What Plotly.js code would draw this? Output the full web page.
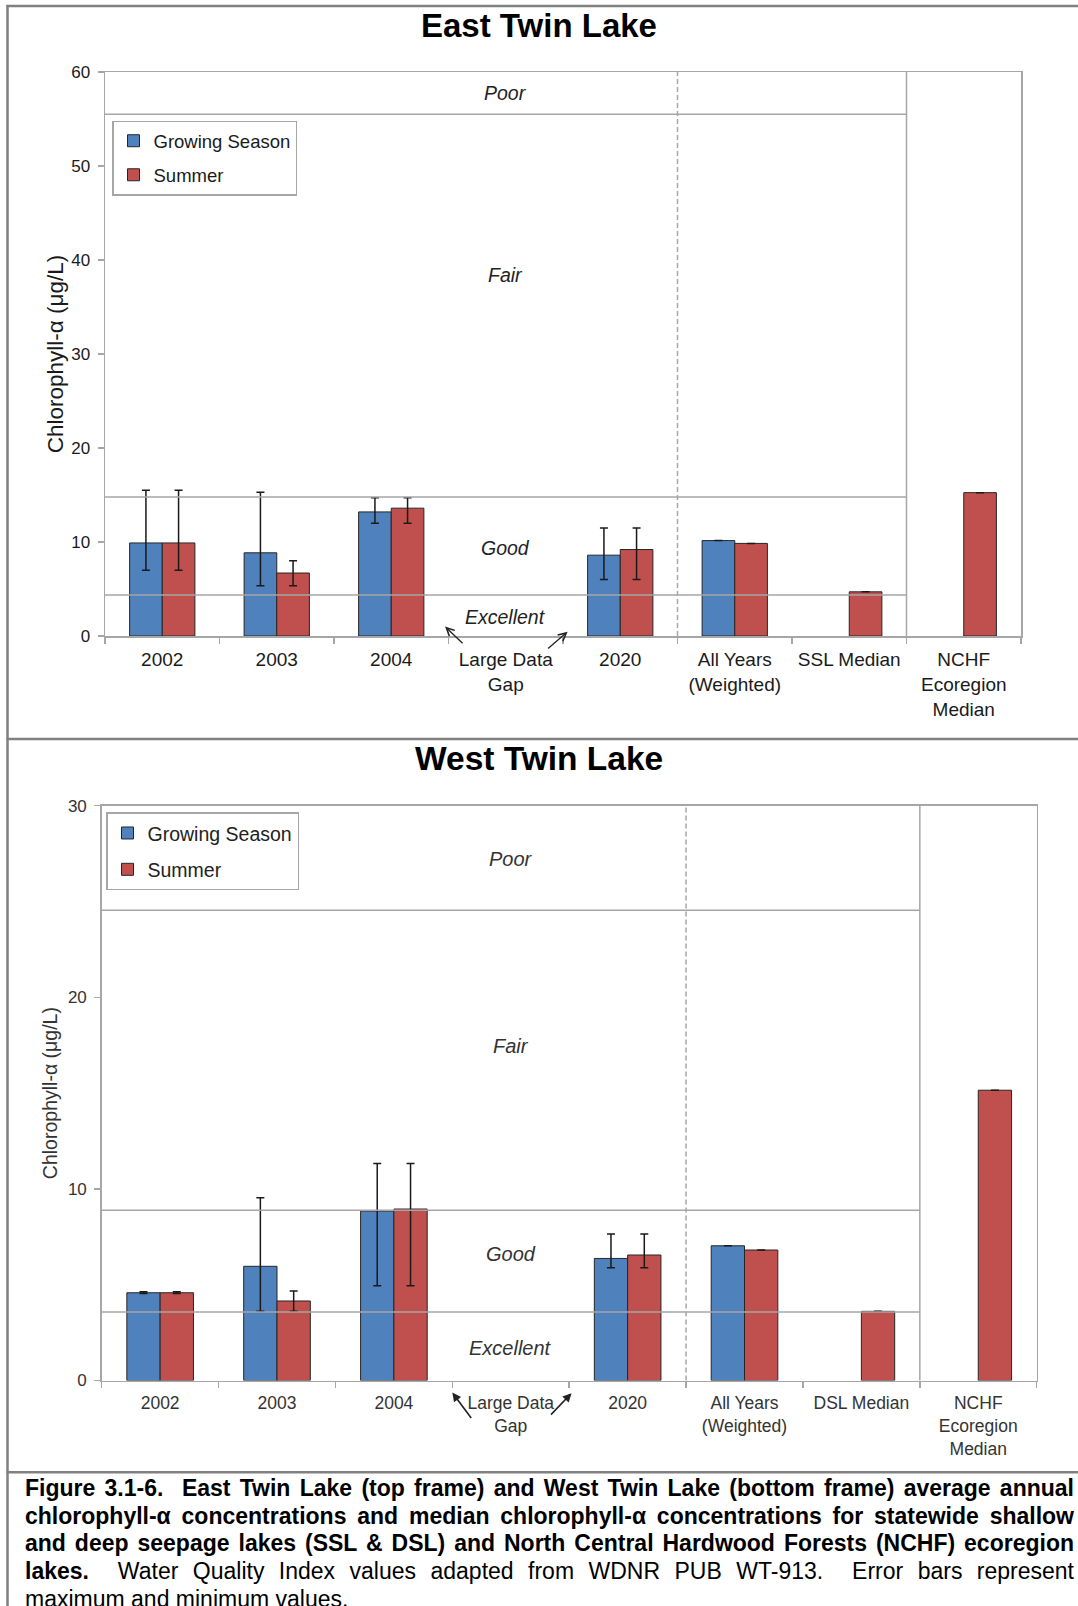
<!DOCTYPE html>
<html>
<head>
<meta charset="utf-8">
<script src="https://cdn.plot.ly/plotly-3.0.1.min.js"></script>
<style>
html,body{margin:0;padding:0;background:#fff;}
#wrap{position:relative;width:1078px;height:1606px;overflow:hidden;background:#fff;}
#chart{position:absolute;left:0;top:0;width:1078px;height:1606px;}
#caption{position:absolute;left:25px;top:1475px;width:1049px;font-family:"Liberation Sans",Arial,sans-serif;font-size:23px;line-height:27.7px;color:#000;}
#caption .ln{text-align:justify;text-align-last:justify;white-space:normal;}
#caption .last{text-align:left;text-align-last:left;}
</style>
</head>
<body>
<div id="wrap">
  <div id="chart"></div>
  <div id="caption">
    <div class="ln"><b>Figure 3.1-6.&nbsp; East Twin Lake (top frame) and West Twin Lake (bottom frame) average annual</b></div>
    <div class="ln"><b>chlorophyll-α concentrations and median chlorophyll-α concentrations for statewide shallow</b></div>
    <div class="ln"><b>and deep seepage lakes (SSL &amp; DSL) and North Central Hardwood Forests (NCHF) ecoregion</b></div>
    <div class="ln"><b>lakes.</b>&nbsp; Water Quality Index values adapted from WDNR PUB WT-913.&nbsp; Error bars represent</div>
    <div class="ln last">maximum and minimum values.</div>
  </div>
</div>
<script>
// ---------------- DATA ----------------
const topCategories = ['2002', '2003', '2004', 'Large Data<br>Gap', '2020', 'All Years<br>(Weighted)', 'SSL Median', 'NCHF<br>Ecoregion<br>Median'];
const bottomCategories = ['2002', '2003', '2004', 'Large Data<br>Gap', '2020', 'All Years<br>(Weighted)', 'DSL Median', 'NCHF<br>Ecoregion<br>Median'];

// East Twin Lake
const eastGrowing    = [9.9, 8.85, 13.2, null, 8.6, 10.15, null, null];
const eastGrowingMax = [15.5, 15.3, 14.7, null, 11.5, null, null, null];
const eastGrowingMin = [7.0, 5.35, 12.0, null, 6.0, null, null, null];
const eastSummer     = [9.9, 6.7, 13.6, null, 9.2, 9.85, 4.7, 15.25];
const eastSummerMax  = [15.5, 8.0, 14.7, null, 11.5, null, null, null];
const eastSummerMin  = [7.0, 5.35, 12.0, null, 6.0, null, null, null];

// West Twin Lake
const westGrowing    = [4.58, 5.96, 8.84, null, 6.37, 7.03, null, null];
const westGrowingMax = [4.63, 9.54, 11.33, null, 7.64, null, null, null];
const westGrowingMin = [4.54, 3.61, 4.95, null, 5.89, null, null, null];
const westSummer     = [4.58, 4.15, 8.95, null, 6.55, 6.81, 3.61, 15.15];
const westSummerMax  = [4.63, 4.67, 11.33, null, 7.64, null, null, null];
const westSummerMin  = [4.54, 3.61, 4.95, null, 5.89, null, null, null];

// Water Quality Index boundaries (Excellent/Good, Good/Fair, Fair/Poor)
const eastThresholds = [4.35, 14.8, 55.5];
const westThresholds = [3.57, 8.89, 24.54];
const qualityLabels  = ['Excellent', 'Good', 'Fair', 'Poor'];
const eastLabelY     = [2.05, 9.4, 38.4, 57.8];
const westLabelY     = [1.68, 6.58, 17.45, 27.2];

const seriesNames = ['Growing Season', 'Summer'];
const yTitle = 'Chlorophyll-α (μg/L)';

// ---------------- STYLE ----------------
const W = 1078, H = 1606;
const FONT = '"Liberation Sans", Arial, sans-serif';
const BLUE = '#4F81BD', RED = '#C0504D';
const AXIS = '#A6A6A6';
const px = v => v / W;
const py = v => 1 - v / H;

function errUp(v, mx) { return v.map((x, i) => (x == null || mx[i] == null) ? null : +(mx[i] - x).toFixed(3)); }
function errDn(v, mn) { return v.map((x, i) => (x == null || mn[i] == null) ? null : +(x - mn[i]).toFixed(3)); }

function barTrace(name, cats, vals, mx, mn, color, xa, ya, legend, group) {
  return {
    type: 'bar', name: name, x: cats, y: vals, xaxis: xa, yaxis: ya,
    legend: legend, legendgroup: group,
    marker: { color: color, line: { color: '#262626', width: 1 } },
    error_y: { type: 'data', symmetric: false, array: errUp(vals, mx), arrayminus: errDn(vals, mn),
               color: '#1a1a1a', thickness: 1.5, width: 4, visible: true },
    hoverinfo: 'x+y'
  };
}

const data = [
  barTrace(seriesNames[0], topCategories, eastGrowing, eastGrowingMax, eastGrowingMin, BLUE, 'x', 'y', 'legend', 'g1'),
  barTrace(seriesNames[1], topCategories, eastSummer, eastSummerMax, eastSummerMin, RED, 'x', 'y', 'legend', 'g2'),
  barTrace(seriesNames[0], bottomCategories, westGrowing, westGrowingMax, westGrowingMin, BLUE, 'x2', 'y2', 'legend2', 'h1'),
  barTrace(seriesNames[1], bottomCategories, westSummer, westSummerMax, westSummerMin, RED, 'x2', 'y2', 'legend2', 'h2')
];

function xAxis(domain, anchor, fsize, fcolor) {
  return {
    domain: domain, anchor: anchor, type: 'category', range: [-0.5, 7.5],
    tickson: 'boundaries', ticks: 'outside', ticklen: 6, tickwidth: 1.5, tickcolor: AXIS,
    showline: true, linecolor: AXIS, linewidth: 1.5, mirror: true,
    showgrid: false, zeroline: false, tickangle: 0, ticklabelstandoff: 6,
    tickfont: { size: fsize, color: fcolor, family: FONT }, fixedrange: true
  };
}
function yAxis(domain, anchor, range, fsize, fcolor, tsize, standoff) {
  return {
    domain: domain, anchor: anchor, range: range, dtick: 10, tick0: 0,
    ticks: 'outside', ticklen: 6, tickwidth: 1.5, tickcolor: AXIS,
    showline: true, linecolor: AXIS, linewidth: 1.5, mirror: true,
    showgrid: false, zeroline: false, ticklabelstandoff: 4,
    tickfont: { size: fsize, color: fcolor, family: FONT },
    title: { text: yTitle, font: { size: tsize, color: fcolor, family: FONT }, standoff: standoff },
    fixedrange: true
  };
}

const shapes = [];
function panelShapes(xr, yr, thresholds) {
  thresholds.forEach(t => shapes.push({ type: 'line', xref: xr, yref: yr, x0: -0.5, x1: 6.5, y0: t, y1: t,
    line: { color: AXIS, width: 1.5 }, layer: 'above' }));
  shapes.push({ type: 'line', xref: xr, yref: yr + ' domain', x0: 4.5, x1: 4.5, y0: 0, y1: 1,
    line: { color: AXIS, width: 1.5, dash: '5px,3px' }, layer: 'above' });
  shapes.push({ type: 'line', xref: xr, yref: yr + ' domain', x0: 6.5, x1: 6.5, y0: 0, y1: 1,
    line: { color: AXIS, width: 1.5 }, layer: 'above' });
}
panelShapes('x', 'y', eastThresholds);
panelShapes('x2', 'y2', westThresholds);

// outer frame
const FRAME = { color: '#808080', width: 2.5 };
shapes.push({ type: 'line', xref: 'paper', yref: 'paper', x0: px(7.5), x1: px(7.5), y0: py(5), y1: 0, line: FRAME });
shapes.push({ type: 'line', xref: 'paper', yref: 'paper', x0: px(6.5), x1: 1, y0: py(6), y1: py(6), line: FRAME });
shapes.push({ type: 'line', xref: 'paper', yref: 'paper', x0: px(6.5), x1: 1, y0: py(739), y1: py(739), line: FRAME });
shapes.push({ type: 'line', xref: 'paper', yref: 'paper', x0: px(6.5), x1: 1, y0: py(1472.3), y1: py(1472.3), line: FRAME });

const annotations = [
  { xref: 'paper', yref: 'paper', x: px(539), y: py(26), text: '<b>East Twin Lake</b>', showarrow: false,
    xanchor: 'center', yanchor: 'middle', font: { size: 33, color: '#000', family: FONT } },
  { xref: 'paper', yref: 'paper', x: px(539), y: py(758), text: '<b>West Twin Lake</b>', showarrow: false,
    xanchor: 'center', yanchor: 'middle', font: { size: 33.5, color: '#000', family: FONT } }
];
qualityLabels.forEach((q, i) => {
  annotations.push({ xref: 'x', yref: 'y', x: 3, y: eastLabelY[i], text: q, showarrow: false,
    xanchor: 'center', yanchor: 'middle', font: { size: 19.5, color: '#222', family: FONT, style: 'italic' } });
  annotations.push({ xref: 'x2', yref: 'y2', x: 3, y: westLabelY[i], text: q, showarrow: false,
    xanchor: 'center', yanchor: 'middle', font: { size: 20, color: '#333', family: FONT, style: 'italic' } });
});
// "Large Data Gap" arrows
annotations.push({ xref: 'x', yref: 'y', x: 2.47, y: 1.0, ax: 19, ay: 18, text: '', showarrow: true,
  arrowhead: 5, arrowsize: 1.2, arrowwidth: 1.3, arrowcolor: '#222' });
annotations.push({ xref: 'x', yref: 'y', x: 3.54, y: 0.45, ax: -21, ay: 18, text: '', showarrow: true,
  arrowhead: 5, arrowsize: 1.2, arrowwidth: 1.3, arrowcolor: '#222' });
annotations.push({ xref: 'x2', yref: 'y2 domain', x: 2.5, y: -0.021, ax: 20, ay: 27, text: '', showarrow: true,
  arrowhead: 2, arrowsize: 1.1, arrowwidth: 1.6, arrowcolor: '#222' });
annotations.push({ xref: 'x2', yref: 'y2 domain', x: 3.52, y: -0.022, ax: -22, ay: 23, text: '', showarrow: true,
  arrowhead: 2, arrowsize: 1.1, arrowwidth: 1.6, arrowcolor: '#222' });

const layout = {
  width: W, height: H, margin: { l: 0, r: 0, t: 0, b: 0 },
  paper_bgcolor: '#fff', plot_bgcolor: 'rgba(0,0,0,0)',
  font: { family: FONT, color: '#222' },
  barmode: 'group', bargap: 0.43, bargroupgap: 0,
  showlegend: true,
  xaxis: xAxis([px(105), px(1021)], 'y', 19, '#1a1a1a'),
  yaxis: yAxis([py(636), py(72)], 'x', [0, 60], 17, '#1a1a1a', 22.5, 1),
  xaxis2: xAxis([px(101.7), px(1036.7)], 'y2', 17.5, '#333'),
  yaxis2: yAxis([py(1380.5), py(805.7)], 'x2', [0, 30], 17, '#333', 19.5, 5),
  legend: { x: px(112), y: py(120.7), xanchor: 'left', yanchor: 'top', bgcolor: '#fff',
    bordercolor: AXIS, borderwidth: 1.5, font: { size: 18.5, color: '#1a1a1a', family: FONT },
    tracegroupgap: 7, traceorder: 'grouped' },
  legend2: { x: px(106), y: py(812.3), xanchor: 'left', yanchor: 'top', bgcolor: '#fff',
    bordercolor: AXIS, borderwidth: 1.5, font: { size: 19.5, color: '#222', family: FONT },
    tracegroupgap: 8, traceorder: 'grouped' },
  shapes: shapes,
  annotations: annotations
};

Plotly.newPlot('chart', data, layout, { staticPlot: true, displayModeBar: false });
</script>
</body>
</html>
